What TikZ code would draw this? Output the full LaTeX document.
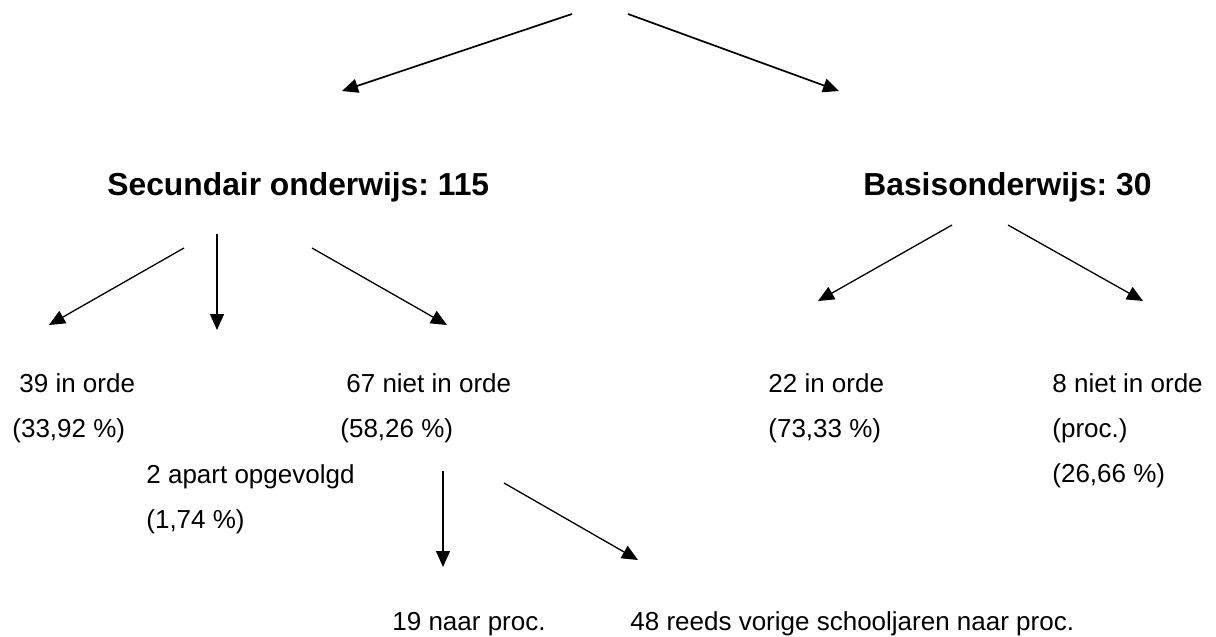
\documentclass[tikz,border=0pt]{standalone}
\usepackage{fontspec}
\setmainfont{Liberation Sans}
\usetikzlibrary{arrows.meta}
\frenchspacing

\begin{document}
\begin{tikzpicture}[x=0.5pt,y=-0.5pt,
  txt/.style={anchor=base west,inner sep=0pt,font=\fontsize{13}{15}\selectfont},
  kop/.style={anchor=base west,inner sep=0pt,font=\fontsize{15.9}{19}\selectfont\bfseries},
  pijl/.style={-{Triangle[length=8pt,width=7pt]},line width=0.65pt},
  dikpijl/.style={pijl,line width=0.85pt}]
\useasboundingbox (0,0) rectangle (1216,637);

% to write headings
\node [kop] (sec) at (107,195) {Secundair onderwijs: 115};
\node [kop] (bas) at (863,195) {Basisonderwijs: 30};

%Secundair side:
\node [txt] (secin) at (19,392) {39 in orde};
\node [txt] (secinp) at (12,437) {(33,92 \%)};
\node [txt] (secapart) at (146,483) {2 apart opgevolgd};
\node [txt] (secapartp) at (146,528) {(1,74 \%)};
\node [txt] (secniet) at (346,392) {67 niet in orde};
\node [txt] (secnietp) at (340,437) {(58,26 \%)};
\node [txt] (proc) at (392,630) {19 naar proc.};
\node [txt] (vorig) at (630,630) {48 reeds vorige schooljaren naar proc.};

%Basis side:
\node [txt] (basin) at (768,392) {22 in orde};
\node [txt] (basinp) at (768,437) {(73,33 \%)};
\node [txt] (basniet) at (1052,392) {8 niet in orde};
\node [txt] (basnietproc) at (1052,437) {(proc.)};
\node [txt] (basnietp) at (1052,482) {(26,66 \%)};

% arrow ends
\coordinate (topl) at (572,14);   \coordinate (topltip) at (342,91);
\coordinate (topr) at (628,14);   \coordinate (toprtip) at (839,91);
\coordinate (secl) at (184,248);  \coordinate (secltip) at (49,325);
\coordinate (secm) at (217,234);  \coordinate (secmtip) at (217,330);
\coordinate (secr) at (312,248);  \coordinate (secrtip) at (447,325);
\coordinate (basl) at (952,225);  \coordinate (basltip) at (818,301);
\coordinate (basr) at (1008,225); \coordinate (basrtip) at (1143,301);
\coordinate (nietm) at (443,471); \coordinate (nietmtip) at (443,567);
\coordinate (nietr) at (504,483); \coordinate (nietrtip) at (638,560);

% to draw arrows
\draw [dikpijl] (topl) -- (topltip);
\draw [dikpijl] (topr) -- (toprtip);
\draw [pijl] (secl) -- (secltip);
\draw [pijl] (secm) -- (secmtip);
\draw [pijl] (secr) -- (secrtip);
\draw [pijl] (basl) -- (basltip);
\draw [pijl] (basr) -- (basrtip);
\draw [pijl] (nietm) -- (nietmtip);
\draw [pijl] (nietr) -- (nietrtip);
\end{tikzpicture}
\end{document}
